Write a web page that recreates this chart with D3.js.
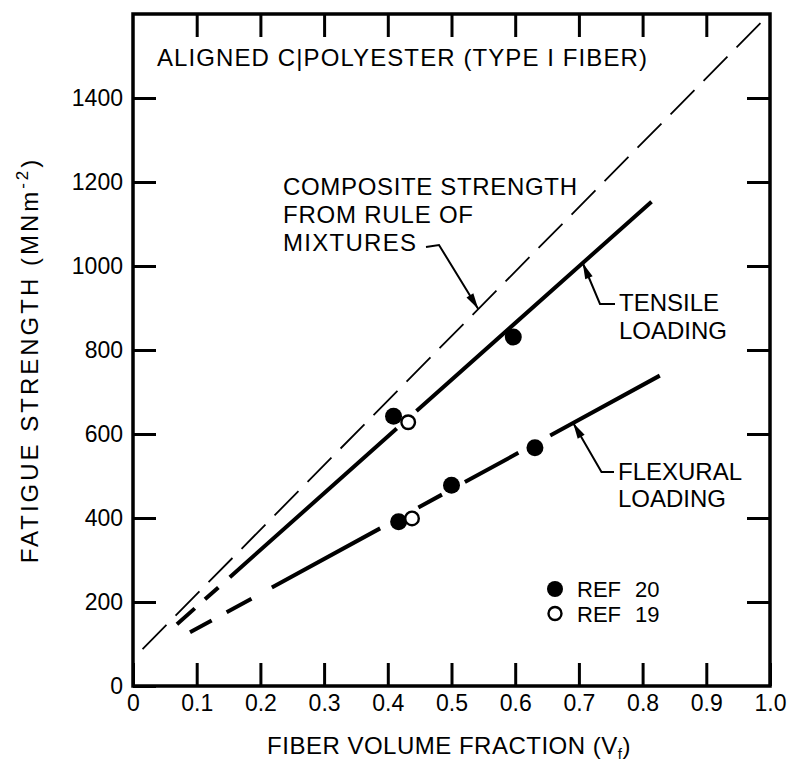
<!DOCTYPE html>
<html><head><meta charset="utf-8">
<script src="https://cdn.jsdelivr.net/npm/d3@7"></script>
<style>body{margin:0;background:#fff}</style>
</head><body>
<svg id="c" width="793" height="764"></svg>
<script>
// ---------- data ----------
const xTickValues = [0, 0.1, 0.2, 0.3, 0.4, 0.5, 0.6, 0.7, 0.8, 0.9, 1.0];
const xTickLabels = ["0", "0.1", "0.2", "0.3", "0.4", "0.5", "0.6", "0.7", "0.8", "0.9", "1.0"];
const yTickValues = [0, 200, 400, 600, 800, 1000, 1200, 1400];
const yTickLabels = ["0", "200", "400", "600", "800", "1000", "1200", "1400"];

// rule-of-mixtures line (dashed), endpoints [Vf, strength]
const ruleOfMixtures = [[0.015, 88], [0.985, 1578]];
// fitted lines, endpoints [Vf, strength]
const tensileLine = [[0.069, 147], [0.814, 1153]];
const flexuralLine = [[0.0895, 128], [0.827, 739]];
// drawn stretches of the fitted lines (Vf ranges)
const tensileSegments = [[0.069, 0.097], [0.113, 0.134], [0.152, 0.414], [0.445, 0.814]];
const flexuralSegments = [[0.0895, 0.1235], [0.147, 0.186], [0.218, 0.388], [0.448, 0.485], [0.521, 0.605], [0.655, 0.827]];

// measured points
const tensileRef20X = [0.409, 0.597];
const tensileRef20Y = [642, 831];
const tensileRef19X = [0.432];
const tensileRef19Y = [628];
const flexuralRef20X = [0.417, 0.500, 0.631];
const flexuralRef20Y = [391, 478, 567];
const flexuralRef19X = [0.438];
const flexuralRef19Y = [399];

// ---------- drawing ----------
const FONT = '"Liberation Sans", Arial, Helvetica, sans-serif';
const svg = d3.select("#c");
const x = d3.scaleLinear().domain([0, 1]).range([133, 770]);
const y = d3.scaleLinear().domain([0, 1600]).range([686, 14]);

function styleAxis(g, fs) {
  g.select(".domain").remove();
  g.selectAll(".tick line").attr("stroke", "#000").attr("stroke-width", 3);
  g.selectAll(".tick text").attr("font-family", FONT).attr("font-size", fs).attr("fill", "#000");
}

const gB = svg.append("g").attr("transform", `translate(0,${y(0)})`)
  .call(d3.axisBottom(x).tickValues(xTickValues).tickFormat((d, i) => xTickLabels[i]).tickSize(-23).tickPadding(9));
styleAxis(gB, 23);
const gT = svg.append("g").attr("transform", `translate(0,${y.range()[1]})`)
  .call(d3.axisTop(x).tickValues(xTickValues.slice(1, -1)).tickFormat("").tickSize(-23));
styleAxis(gT, 23);
const gL = svg.append("g").attr("transform", `translate(${x(0)},0)`)
  .call(d3.axisLeft(y).tickValues(yTickValues).tickFormat((d, i) => yTickLabels[i]).tickSize(-23).tickPadding(10));
styleAxis(gL, 23);
const gR = svg.append("g").attr("transform", `translate(${x(1)},0)`)
  .call(d3.axisRight(y).tickValues(yTickValues.slice(1)).tickFormat("").tickSize(-23));
styleAxis(gR, 23);

svg.append("rect").attr("x", x(0)).attr("y", y.range()[1])
  .attr("width", x(1) - x(0)).attr("height", y(0) - y.range()[1])
  .attr("fill", "none").attr("stroke", "#000").attr("stroke-width", 3.5);

const line = d3.line().x(d => x(d[0])).y(d => y(d[1]));

// rule of mixtures dashed line
const rom = svg.append("path").datum(ruleOfMixtures).attr("d", line)
  .attr("fill", "none").attr("stroke", "#000").attr("stroke-width", 1.8);
{
  const L = rom.node().getTotalLength();
  const dash = 34, n = 19;
  const gap = (L - dash * n) / (n - 1);
  rom.attr("stroke-dasharray", `${dash},${gap}`);
}

function brokenLine(pts, segs, width) {
  const p = svg.append("path").datum(pts).attr("d", line)
    .attr("fill", "none").attr("stroke", "#000").attr("stroke-width", width).attr("stroke-linecap", "butt");
  const L = p.node().getTotalLength();
  const x0 = pts[0][0], x1 = pts[1][0];
  const pos = v => (v - x0) / (x1 - x0) * L;
  const arr = [];
  if (pos(segs[0][0]) > 0.01) arr.push(0, pos(segs[0][0]));
  segs.forEach((s, i) => {
    if (i > 0) arr.push(pos(s[0]) - pos(segs[i - 1][1]));
    arr.push(pos(s[1]) - pos(s[0]));
  });
  arr.push(L + 20);
  p.attr("stroke-dasharray", arr.join(","));
}
brokenLine(tensileLine, tensileSegments, 4);
brokenLine(flexuralLine, flexuralSegments, 4);

function filled(xs, ys) {
  svg.append("g").selectAll("circle").data(xs).join("circle")
    .attr("cx", d => x(d)).attr("cy", (d, i) => y(ys[i])).attr("r", 8.5).attr("fill", "#000");
}
function open(xs, ys) {
  svg.append("g").selectAll("circle").data(xs).join("circle")
    .attr("cx", d => x(d)).attr("cy", (d, i) => y(ys[i])).attr("r", 6.8)
    .attr("fill", "#fff").attr("stroke", "#000").attr("stroke-width", 2.4);
}
filled(tensileRef20X, tensileRef20Y);
open(tensileRef19X, tensileRef19Y);
filled(flexuralRef20X, flexuralRef20Y);
open(flexuralRef19X, flexuralRef19Y);

// ---------- texts ----------
function txt(s, px, py, opts = {}) {
  const t = svg.append("text").attr("x", px).attr("y", py).text(s)
    .attr("font-family", FONT).attr("font-size", opts.fs || 24).attr("fill", "#000");
  if (opts.len) t.attr("textLength", opts.len).attr("lengthAdjust", "spacing");
  if (opts.anchor) t.attr("text-anchor", opts.anchor);
  if (opts.ws) t.attr("word-spacing", opts.ws);
  return t;
}
txt("ALIGNED C|POLYESTER (TYPE I FIBER)", 157, 66, { len: 490 });
txt("COMPOSITE STRENGTH", 283, 195, { len: 294 });
txt("FROM RULE OF", 283, 223, { len: 190 });
txt("MIXTURES", 283, 251, { len: 133 });
txt("TENSILE", 619, 311);
txt("LOADING", 619, 339);
txt("FLEXURAL", 618, 480);
txt("LOADING", 618, 507);

// leaders with arrows
function onLine(pts, v) {
  const [a, b] = pts;
  return [x(v), y(a[1] + (v - a[0]) / (b[0] - a[0]) * (b[1] - a[1]))];
}
function leader(points, tip) {
  const all = points.concat([tip]);
  svg.append("path").attr("d", d3.line()(all)).attr("fill", "none")
    .attr("stroke", "#000").attr("stroke-width", 2);
  const prev = all[all.length - 2];
  const ang = Math.atan2(tip[1] - prev[1], tip[0] - prev[0]);
  const len = 16, hw = 4;
  const bx = tip[0] - len * Math.cos(ang), by = tip[1] - len * Math.sin(ang);
  const nx = -Math.sin(ang) * hw, ny = Math.cos(ang) * hw;
  svg.append("path").attr("d", `M${tip[0]},${tip[1]}L${bx + nx},${by + ny}L${bx - nx},${by - ny}Z`).attr("fill", "#000");
}
leader([[426, 247], [439, 245]], onLine(ruleOfMixtures, 0.542));
leader([[615, 304], [600, 304]], onLine(tensileLine, 0.706));
leader([[614, 472], [601.5, 472]], onLine(flexuralLine, 0.691));

// legend
svg.append("circle").attr("cx", 555).attr("cy", 589).attr("r", 8).attr("fill", "#000");
svg.append("circle").attr("cx", 555).attr("cy", 613.5).attr("r", 6.5).attr("fill", "#fff").attr("stroke", "#000").attr("stroke-width", 2.4);
txt("REF 20", 577, 597, { fs: 22, ws: 8 });
txt("REF 19", 577, 622, { fs: 22, ws: 8 });

// axis titles
const yt = svg.append("text").attr("transform", "translate(38,360) rotate(-90)")
  .attr("text-anchor", "middle").attr("font-family", FONT).attr("font-size", 24).attr("fill", "#000")
  .attr("letter-spacing", 3);
yt.append("tspan").text("FATIGUE  STRENGTH  (MNm");
yt.append("tspan").text("-2").attr("font-size", 17).attr("dy", -10);
yt.append("tspan").text(")").attr("dy", 10);

const xt = svg.append("text").attr("x", 449).attr("y", 754)
  .attr("text-anchor", "middle").attr("font-family", FONT).attr("font-size", 24).attr("fill", "#000")
  .attr("letter-spacing", 0.5);
xt.append("tspan").text("FIBER VOLUME FRACTION (V");
xt.append("tspan").text("f").attr("font-size", 15).attr("dy", 5);
xt.append("tspan").text(")").attr("dy", -5);
</script>
</body></html>
